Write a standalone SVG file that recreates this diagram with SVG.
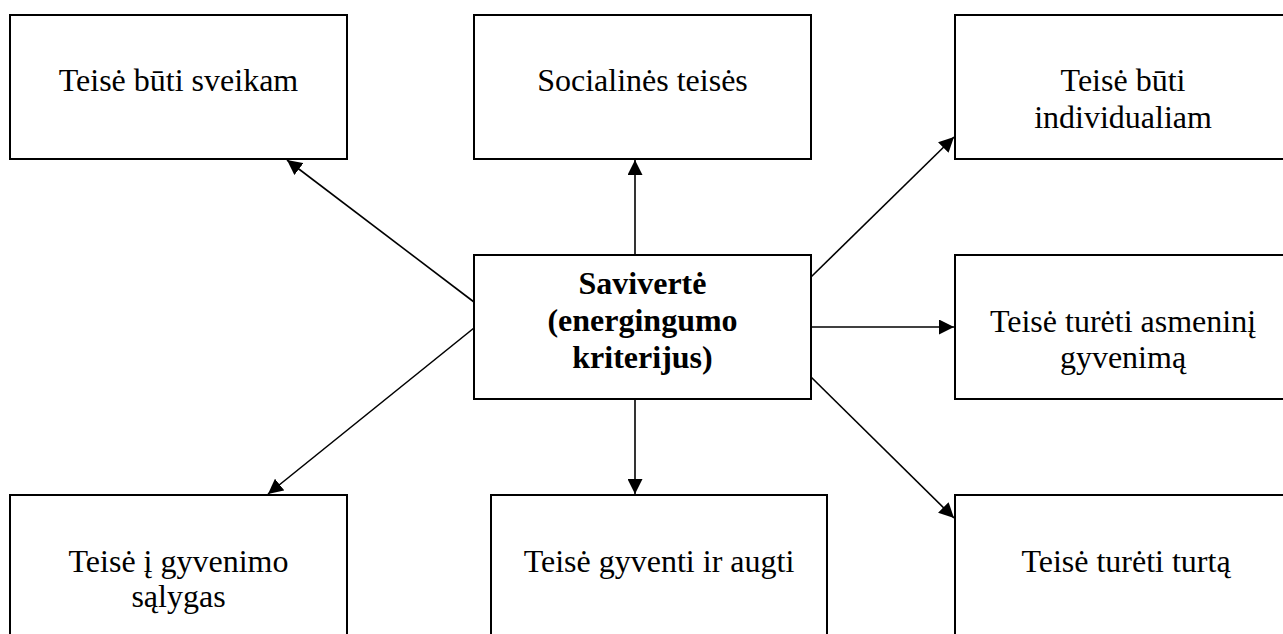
<svg xmlns="http://www.w3.org/2000/svg" width="1283" height="634" viewBox="0 0 1283 634">
<defs>
<style>
.box{fill:#fff;stroke:#000;stroke-width:2}
.t{font-family:"Liberation Serif","Times New Roman",serif;font-size:32px;fill:#000;text-anchor:middle}
.b{font-weight:bold}
.c{stroke:#000;stroke-width:1.6;fill:none;marker-end:url(#ah)}
</style>
<marker id="ah" markerUnits="userSpaceOnUse" markerWidth="16" markerHeight="15" refX="15" refY="7.5" orient="auto">
<path d="M0,0 L15,7.5 L0,15 z" fill="#000"/>
</marker>
</defs>
<rect width="1283" height="634" fill="#fff"/>
<g id="n1"><rect class="box" x="10" y="15" width="337" height="144"/><text class="t" x="178.5" y="91">Teisė būti sveikam</text></g>
<g id="n2"><rect class="box" x="474" y="15" width="337" height="144"/><text class="t" x="642.5" y="91">Socialinės teisės</text></g>
<g id="n3"><rect class="box" x="955" y="15" width="337" height="144"/><text class="t" x="1123" y="91">Teisė būti</text><text class="t" x="1123" y="128">individualiam</text></g>
<g id="center"><rect class="box" x="474" y="255" width="337" height="144"/><text class="t b" x="642.5" y="294">Savivertė</text><text class="t b" x="642.5" y="331">(energingumo</text><text class="t b" x="642.5" y="368">kriterijus)</text></g>
<g id="n4"><rect class="box" x="955" y="255" width="337" height="144"/><text class="t" x="1123" y="332">Teisė turėti asmeninį</text><text class="t" x="1123" y="368">gyvenimą</text></g>
<g id="n5"><rect class="box" x="10" y="495" width="337" height="160"/><text class="t" x="178.5" y="572">Teisė į gyvenimo</text><text class="t" x="178.5" y="607">sąlygas</text></g>
<g id="n6"><rect class="box" x="491" y="495" width="336" height="160"/><text class="t" x="659" y="572">Teisė gyventi ir augti</text></g>
<g id="n7"><rect class="box" x="955" y="495" width="337" height="160"/><text class="t" x="1126" y="572">Teisė turėti turtą</text></g>
<g id="connectors">
<line class="c" x1="635" y1="255" x2="635" y2="160"/>
<line class="c" x1="635" y1="399" x2="635" y2="494"/>
<line class="c" x1="811" y1="327" x2="954" y2="327"/>
<line class="c" x1="811" y1="277" x2="954" y2="137"/>
<line class="c" x1="811" y1="377" x2="954" y2="518"/>
<line class="c" x1="474" y1="302" x2="287" y2="160"/>
<line class="c" x1="474" y1="328" x2="268" y2="494"/>
</g>
</svg>
